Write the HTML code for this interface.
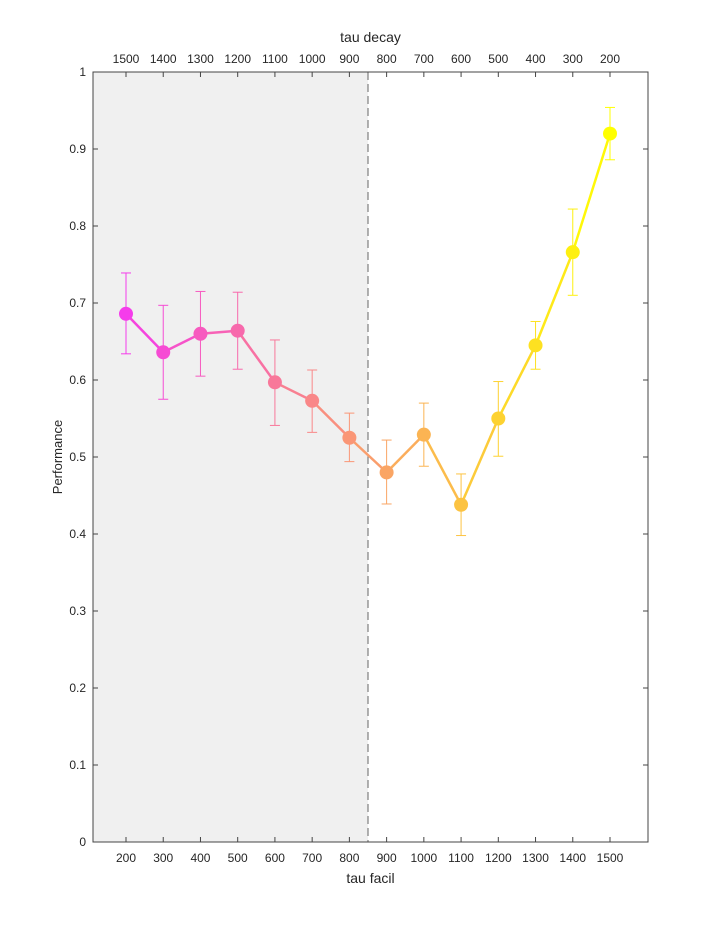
<!DOCTYPE html>
<html><head><meta charset="utf-8"><style>
body{margin:0;background:#fff;}
svg{display:block;font-family:"Liberation Sans",sans-serif;}
</style></head><body>
<svg id="chart" width="715" height="946"></svg>
<script>
const facil = [200,300,400,500,600,700,800,900,1000,1100,1200,1300,1400,1500];
const decay = [1500,1400,1300,1200,1100,1000,900,800,700,600,500,400,300,200];
const perf = [0.686,0.636,0.660,0.664,0.597,0.573,0.525,0.480,0.529,0.438,0.550,0.645,0.766,0.920];
const errHi = [0.739,0.697,0.715,0.714,0.652,0.613,0.557,0.522,0.570,0.478,0.598,0.676,0.822,0.954];
const errLo = [0.634,0.575,0.605,0.614,0.541,0.532,0.494,0.439,0.488,0.398,0.501,0.614,0.710,0.886];
const yTicks = [0,0.1,0.2,0.3,0.4,0.5,0.6,0.7,0.8,0.9,1];
const yLabels = ["0","0.1","0.2","0.3","0.4","0.5","0.6","0.7","0.8","0.9","1"];
const splitIndex = 6.5;

const NS="http://www.w3.org/2000/svg";
const svg=document.getElementById('chart');
const L=93,R=648,T=72,B=842;
const xs=i=>126+i*(610-126)/13;
const ys=v=>B-(B-T)*v;
function mk(tag,attrs,parent){const e=document.createElementNS(NS,tag);for(const k in attrs)e.setAttribute(k,attrs[k]);(parent||svg).appendChild(e);return e;}
function col(i){const t=i/(perf.length-1);
  const r=Math.round(245+10*t), g=Math.round(60+195*t), b=Math.round(235-235*Math.pow(t,0.9));
  return `rgb(${r},${g},${b})`;}

let e=mk('rect',{x:L,y:T,width:xs(splitIndex)-L,height:B-T,fill:'#f0f0f0'});


e=mk('line',{x1:xs(splitIndex),x2:xs(splitIndex),y1:T,y2:B,stroke:'#666','stroke-dasharray':'8,4'});



e=mk('rect',{x:L,y:T,width:R-L,height:B-T,fill:'none',stroke:'#444','stroke-width':1});



yTicks.forEach((v,i)=>{
  const y=ys(v);
  mk('line',{x1:L,x2:L+5,y1:y,y2:y,stroke:'#444'});
  mk('line',{x1:R,x2:R-5,y1:y,y2:y,stroke:'#444'});
  const t=mk('text',{x:L-7,y:y+4,'text-anchor':'end','font-size':12,fill:'#262626'});
  t.textContent=yLabels[i];
  
  
});
facil.forEach((f,i)=>{
  const x=xs(i);
  mk('line',{x1:x,x2:x,y1:B,y2:B-5,stroke:'#444'});
  mk('line',{x1:x,x2:x,y1:T,y2:T+5,stroke:'#444'});
  let t=mk('text',{x:x,y:B+20,'text-anchor':'middle','font-size':12,fill:'#262626'});
  t.textContent=f;
  
  
  t=mk('text',{x:x,y:T-9,'text-anchor':'middle','font-size':12,fill:'#262626'});
  t.textContent=decay[i];
  
  
});

perf.forEach((v,i)=>{
  const x=xs(i),c=col(i);
  const g=mk('g',{stroke:c,'stroke-width':1});
  
  
  mk('line',{x1:x,x2:x,y1:ys(errHi[i]),y2:ys(errLo[i])},g);
  mk('line',{x1:x-5,x2:x+5,y1:ys(errHi[i]),y2:ys(errHi[i])},g);
  mk('line',{x1:x-5,x2:x+5,y1:ys(errLo[i]),y2:ys(errLo[i])},g);
});
for(let i=0;i<perf.length-1;i++){
  const s=mk('line',{x1:xs(i),y1:ys(perf[i]),x2:xs(i+1),y2:ys(perf[i+1]),stroke:col(i+0.5),'stroke-width':2.5});
  
  
}
perf.forEach((v,i)=>{
  const p=mk('circle',{cx:xs(i),cy:ys(v),r:7,fill:col(i)});
  
  
});

let t=mk('text',{x:(L+R)/2,y:B+41,'text-anchor':'middle','font-size':14,fill:'#262626'});
t.textContent='tau facil';


t=mk('text',{x:(L+R)/2,y:T-30,'text-anchor':'middle','font-size':14,fill:'#262626'});
t.textContent='tau decay';


t=mk('text',{x:62,y:457,'text-anchor':'middle','font-size':13,fill:'#262626',transform:'rotate(-90 62 457)'});
t.textContent='Performance';


</script>
</body></html>
